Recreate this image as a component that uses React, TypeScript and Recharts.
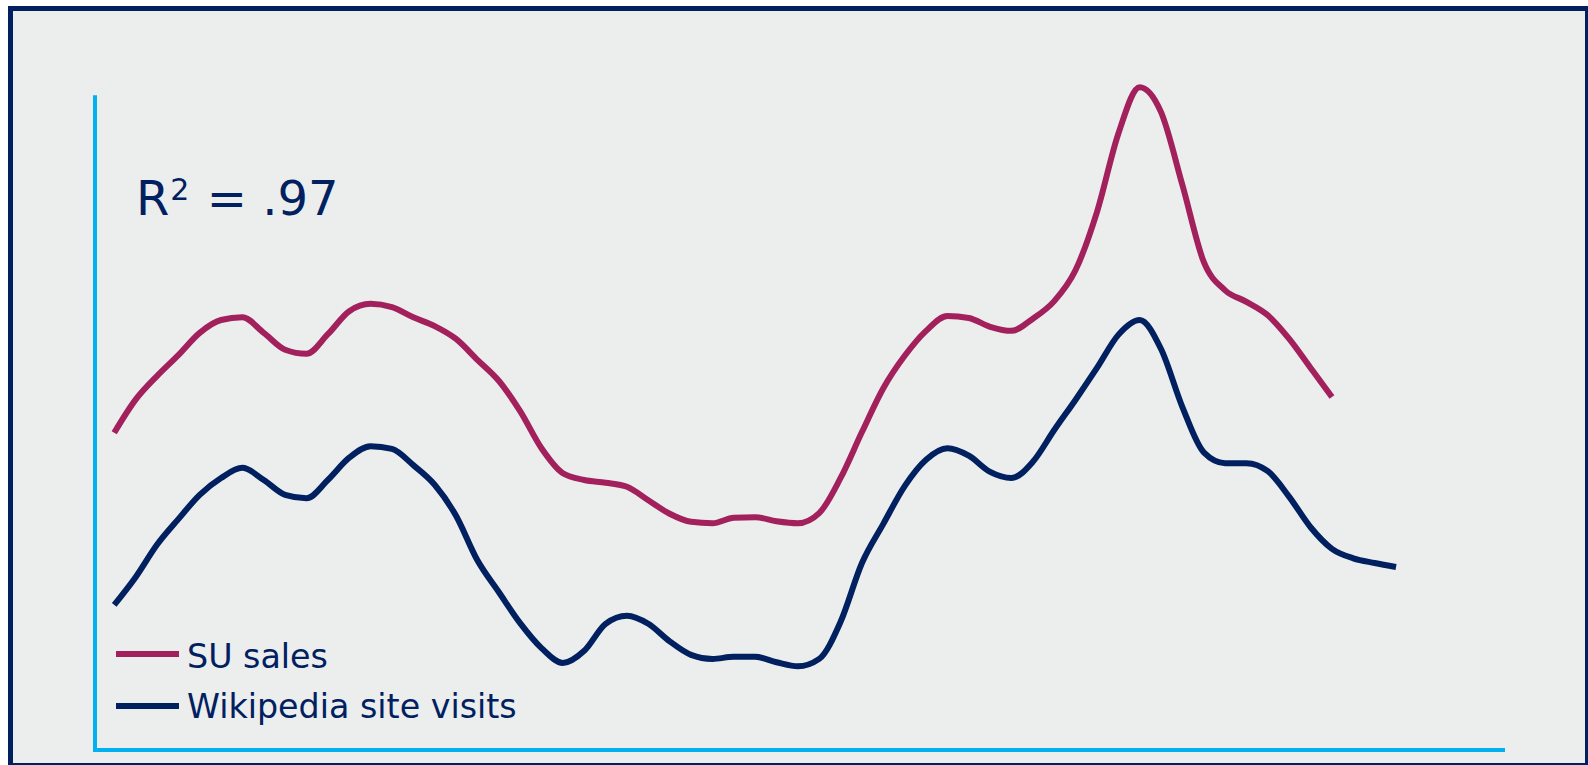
import React from 'react';
import { LineChart, Line, XAxis, YAxis, ReferenceLine, Legend } from 'recharts';

// Weekly index (period number) shared by both series
const weeks: number[] = Array.from({ length: 61 }, (_, i) => i);

// SU sales, indexed values (series ends three periods earlier)
const suSales: number[] = [
  47.0, 51.9, 55.4, 58.5, 61.8, 63.7, 64.1, 61.8, 59.3, 58.7,
  61.6, 65.0, 66.1, 65.6, 64.1, 62.8, 60.9, 57.8, 54.7, 50.2,
  44.7, 41.0, 40.0, 39.6, 39.0, 37.0, 35.0, 33.8, 33.6, 34.4,
  34.5, 33.9, 33.6, 35.1, 40.3, 47.1, 53.6, 58.4, 62.1, 64.3,
  64.0, 62.7, 62.1, 63.9, 66.5, 71.1, 79.7, 91.3, 98.2, 94.5,
  83.7, 72.3, 68.1, 66.4, 64.4, 60.9, 56.6, 52.3,
];

// Wikipedia site visits, indexed values
const wikiVisits: number[] = [
  21.5, 25.6, 30.4, 34.2, 37.8, 40.3, 41.8, 40.0, 37.8, 37.3,
  40.0, 43.3, 45.0, 44.6, 42.2, 39.3, 34.7, 28.1, 23.4, 18.8,
  15.1, 12.9, 14.7, 18.7, 19.9, 18.7, 16.1, 14.1, 13.5, 13.8,
  13.8, 13.0, 12.4, 13.5, 19.0, 27.7, 33.5, 39.1, 43.0, 44.7,
  43.6, 41.2, 40.3, 42.7, 47.4, 51.9, 56.6, 61.5, 63.7, 59.4,
  50.8, 44.1, 42.5, 42.5, 41.3, 37.5, 33.0, 29.8, 28.4, 27.7,
  27.1,
];

const seriesNames = { su: 'SU sales', wiki: 'Wikipedia site visits' };
const rSquared = { base: 'R', power: '2', rest: ' = .97' };

const X_DOMAIN: [number, number] = [-0.9, 65.1];
const Y_DOMAIN: [number, number] = [0, 100];
const Y_AXIS_TOP = 96.7;

const NAVY = '#002060';
const MAGENTA = '#A2215C';
const AXIS_BLUE = '#00B0F0';
const PANEL = '#ECEDED';
const FONT = '"DejaVu Sans", Verdana, sans-serif';
const LINE_WIDTH = 6;

const rows = weeks.map((w, i) => ({
  week: w,
  su: i < suSales.length ? suSales[i] : null,
  wiki: wikiVisits[i],
}));

const LegendBox = (props: any) => {
  const payload = props.payload || [];
  return (
    <svg width={420} height={110} style={{ display: 'block', overflow: 'visible' }}>
      {payload.map((p: any, i: number) => (
        <g key={p.value}>
          <line
            x1={6}
            x2={69}
            y1={24 + i * 52}
            y2={24 + i * 52}
            stroke={p.color}
            strokeWidth={LINE_WIDTH}
          />
          <text x={77} y={38 + i * 50} fontSize={33.3} fill={NAVY} fontFamily={FONT}>
            {p.value}
          </text>
        </g>
      ))}
    </svg>
  );
};

export default function App() {
  return (
    <div
      style={{
        position: 'absolute',
        left: 0,
        top: 0,
        width: 1588,
        height: 765,
        overflow: 'hidden',
        background: '#FFFFFF',
        fontFamily: FONT,
      }}
    >
      <div
        style={{
          position: 'absolute',
          left: 8,
          top: 6,
          width: 1582,
          height: 762,
          boxSizing: 'border-box',
          border: `5px solid ${NAVY}`,
          background: PANEL,
        }}
      />
      <div style={{ position: 'absolute', left: 0, top: 0 }}>
        <LineChart
          width={1588}
          height={765}
          data={rows}
          margin={{ top: 75, right: 83, bottom: 15, left: 95 }}
        >
          <XAxis type="number" dataKey="week" domain={X_DOMAIN} hide />
          <YAxis hide domain={Y_DOMAIN} />
          {/* axis lines */}
          <ReferenceLine
            segment={[
              { x: X_DOMAIN[0], y: Y_DOMAIN[0] },
              { x: X_DOMAIN[1], y: Y_DOMAIN[0] },
            ]}
            stroke={AXIS_BLUE}
            strokeWidth={4}
            ifOverflow="visible"
          />
          <ReferenceLine
            segment={[
              { x: X_DOMAIN[0], y: Y_DOMAIN[0] },
              { x: X_DOMAIN[0], y: Y_AXIS_TOP },
            ]}
            stroke={AXIS_BLUE}
            strokeWidth={4}
            strokeLinecap="square"
            ifOverflow="visible"
          />
          <Line
            type="monotone"
            dataKey="su"
            name={seriesNames.su}
            stroke={MAGENTA}
            strokeWidth={LINE_WIDTH}
            dot={false}
            activeDot={false}
            isAnimationActive={false}
          />
          <Line
            type="monotone"
            dataKey="wiki"
            name={seriesNames.wiki}
            stroke={NAVY}
            strokeWidth={LINE_WIDTH}
            dot={false}
            activeDot={false}
            isAnimationActive={false}
          />
          <Legend
            layout="vertical"
            align="center"
            verticalAlign="middle"
            content={LegendBox}
            wrapperStyle={{ left: 110, top: 630, width: 420, height: 110 }}
          />
        </LineChart>
      </div>
      <svg
        width={1588}
        height={765}
        style={{ position: 'absolute', left: 0, top: 0, pointerEvents: 'none' }}
      >
        <text x={136} y={215} fontSize={48} fill={NAVY} fontFamily={FONT}>
          <tspan>{rSquared.base}</tspan>
          <tspan fontSize={30} dy={-15} dx={1}>{rSquared.power}</tspan>
          <tspan dy={15} dx={2} style={{ whiteSpace: 'pre' }}>{rSquared.rest}</tspan>
        </text>
      </svg>
    </div>
  );
}
